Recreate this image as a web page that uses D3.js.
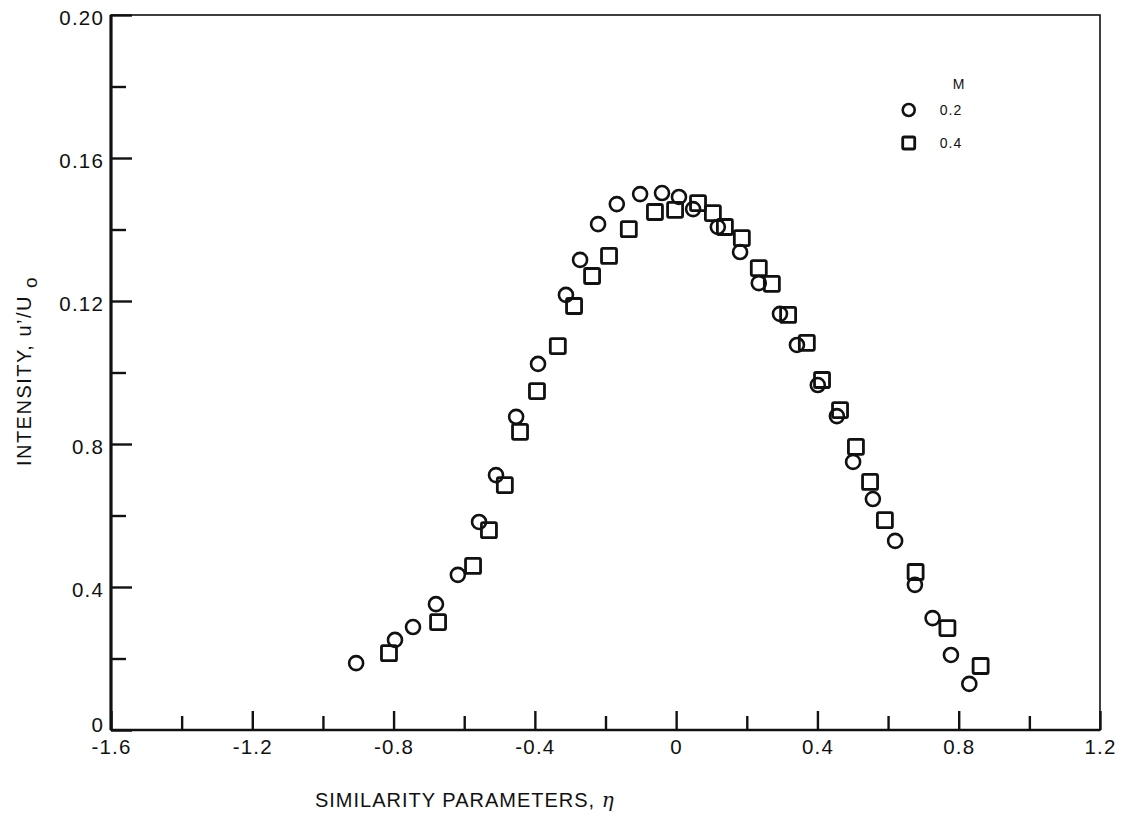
<!DOCTYPE html>
<html>
<head>
<meta charset="utf-8">
<script src="https://cdn.jsdelivr.net/npm/d3@7"></script>
<style>
  body { margin: 0; background: #fff; }
  text { font-family: "Liberation Sans", Arial, Helvetica, sans-serif; fill: #111; }
</style>
</head>
<body>
<div id="chart"></div>
<script>
// data
var etaM02 = [-0.906, -0.796, -0.745, -0.680, -0.618, -0.558, -0.510, -0.453, -0.391, -0.312,
              -0.272, -0.221, -0.168, -0.102, -0.040, 0.008, 0.048, 0.118, 0.181, 0.234,
              0.294, 0.342, 0.401, 0.455, 0.501, 0.557, 0.620, 0.676, 0.726, 0.778, 0.830];
var uM02   = [0.0187, 0.0252, 0.0288, 0.0352, 0.0434, 0.0582, 0.0713, 0.0876, 0.1024, 0.1217,
              0.1315, 0.1415, 0.1471, 0.1499, 0.1502, 0.1491, 0.1457, 0.1407, 0.1337, 0.1250,
              0.1164, 0.1077, 0.0965, 0.0878, 0.0750, 0.0646, 0.0529, 0.0406, 0.0313, 0.0210, 0.0129];

var etaM04 = [-0.813, -0.674, -0.575, -0.530, -0.485, -0.442, -0.394, -0.335, -0.289, -0.238,
              -0.190, -0.134, -0.060, -0.003, 0.062, 0.104, 0.138, 0.186, 0.234, 0.271,
              0.317, 0.370, 0.413, 0.464, 0.509, 0.549, 0.591, 0.678, 0.768, 0.862];
var uM04   = [0.0215, 0.0302, 0.0459, 0.0559, 0.0685, 0.0834, 0.0948, 0.1074, 0.1186, 0.1270,
              0.1326, 0.1401, 0.1449, 0.1455, 0.1474, 0.1446, 0.1407, 0.1376, 0.1292, 0.1248,
              0.1161, 0.1083, 0.0979, 0.0895, 0.0792, 0.0694, 0.0587, 0.0442, 0.0285, 0.0179];

var xTicks = [-1.6, -1.2, -0.8, -0.4, 0, 0.4, 0.8, 1.2];
var xTickLabels = ["-1.6", "-1.2", "-0.8", "-0.4", "0", "0.4", "0.8", "1.2"];
var yTicks = [0, 0.04, 0.08, 0.12, 0.16, 0.20];
var yTickLabels = ["0", "0.4", "0.8", "0.12", "0.16", "0.20"];
var legendTitle = "M";
var legendLabels = ["0.2", "0.4"];

var margin = {top: 15, right: 33, bottom: 97, left: 111},
    width = 1133 - margin.left - margin.right,
    height = 827 - margin.top - margin.bottom;

var x = d3.scaleLinear().domain([-1.6, 1.2]).range([0, width]);
var y = d3.scaleLinear().domain([0, 0.20]).range([height, 0]);

var svg = d3.select("#chart").append("svg")
    .attr("width", 1133)
    .attr("height", 827)
  .append("g")
    .attr("transform", "translate(" + margin.left + "," + margin.top + ")");

// minor ticks halfway between the labelled ones
var xMinor = d3.range(-1.4, 1.2, 0.4).map(function(d){ return +d.toFixed(2); });
var yMinor = [0.02, 0.06, 0.10, 0.14, 0.18];

svg.append("g")
    .attr("class", "axis x minor")
    .attr("transform", "translate(0," + height + ")")
    .call(d3.axisBottom(x).tickValues(xMinor).tickSize(-14).tickFormat(""));

svg.append("g")
    .attr("class", "axis x")
    .attr("transform", "translate(0," + height + ")")
    .call(d3.axisBottom(x).tickValues(xTicks).tickSize(-19).tickPadding(9)
      .tickFormat(function(d, i){ return xTickLabels[i]; }));

svg.append("g")
    .attr("class", "axis y minor")
    .call(d3.axisLeft(y).tickValues(yMinor).tickSize(-15).tickFormat(""));

svg.append("g")
    .attr("class", "axis y")
    .call(d3.axisLeft(y).tickValues(yTicks).tickSize(-21).tickPadding(7)
      .tickFormat(function(d, i){ return yTickLabels[i]; }));

svg.selectAll(".axis .domain").remove();
svg.selectAll(".axis line").attr("stroke", "#111").attr("stroke-width", 2.4);
svg.selectAll(".axis text")
    .attr("fill", "#111")
    .style("font-size", "20.5px")
    .style("letter-spacing", "1.2px");
svg.selectAll(".axis.y text")
    .attr("dy", function(d){ return d == 0 ? "0.05em" : "0.45em"; });

// frame
svg.append("rect")
    .attr("width", width).attr("height", height)
    .attr("fill", "none").attr("stroke", "#111").attr("stroke-width", 1.6);
svg.append("line")
    .attr("x1", 0).attr("x2", 0).attr("y1", 0).attr("y2", height)
    .attr("stroke", "#111").attr("stroke-width", 3.2);
svg.append("line")
    .attr("x1", 0).attr("x2", width).attr("y1", height).attr("y2", height)
    .attr("stroke", "#111").attr("stroke-width", 2.4);

// points
var m02 = etaM02.map(function(d, i){ return {eta: d, u: uM02[i]}; });
var m04 = etaM04.map(function(d, i){ return {eta: d, u: uM04[i]}; });
var sq = 15;

svg.selectAll(".ptM04")
    .data(m04)
  .enter().append("rect")
    .attr("class", "ptM04")
    .attr("x", function(d){ return x(d.eta) - sq / 2; })
    .attr("y", function(d){ return y(d.u) - sq / 2; })
    .attr("width", sq).attr("height", sq)
    .attr("rx", 1.5)
    .attr("fill", "none").attr("stroke", "#111").attr("stroke-width", 2.8);

svg.selectAll(".ptM02")
    .data(m02)
  .enter().append("circle")
    .attr("class", "ptM02")
    .attr("cx", function(d){ return x(d.eta); })
    .attr("cy", function(d){ return y(d.u); })
    .attr("r", 7)
    .attr("fill", "none").attr("stroke", "#111").attr("stroke-width", 2.6);

// legend
var legend = svg.append("g").attr("transform", "translate(" + (x(0.8) - 50) + ",0)");
legend.append("text")
    .attr("x", 44).attr("y", 74)
    .style("font-size", "14px")
    .text(legendTitle);
legend.append("circle")
    .attr("cx", 0).attr("cy", 95).attr("r", 6)
    .attr("fill", "none").attr("stroke", "#111").attr("stroke-width", 2.6);
legend.append("rect")
    .attr("x", -6).attr("y", 122).attr("width", 12).attr("height", 12).attr("rx", 1.5)
    .attr("fill", "none").attr("stroke", "#111").attr("stroke-width", 2.8);
legend.selectAll(".legLabel")
    .data(legendLabels)
  .enter().append("text")
    .attr("class", "legLabel")
    .attr("x", 31)
    .attr("y", function(d, i){ return 100 + i * 33; })
    .style("font-size", "14px")
    .style("letter-spacing", "1px")
    .text(function(d){ return d; });

// axis titles
svg.append("text")
    .attr("x", x(-0.4) - 70)
    .attr("y", height + 77)
    .attr("text-anchor", "middle")
    .style("font-size", "20px")
    .style("letter-spacing", "1px")
    .text("SIMILARITY PARAMETERS, ")
  .append("tspan")
    .style("font-style", "italic")
    .style("font-family", "DejaVu Serif, serif")
    .text("\u03b7");

var yTitle = svg.append("text")
    .attr("transform", "translate(" + (-80) + "," + 356 + ") rotate(-90)")
    .attr("text-anchor", "middle")
    .style("font-size", "20px")
    .style("letter-spacing", "1.5px");
yTitle.append("tspan").text("INTENSITY, u\u2019/U ");
yTitle.append("tspan").attr("dy", 6).style("font-size", "19px").text("o");
</script>
</body>
</html>
